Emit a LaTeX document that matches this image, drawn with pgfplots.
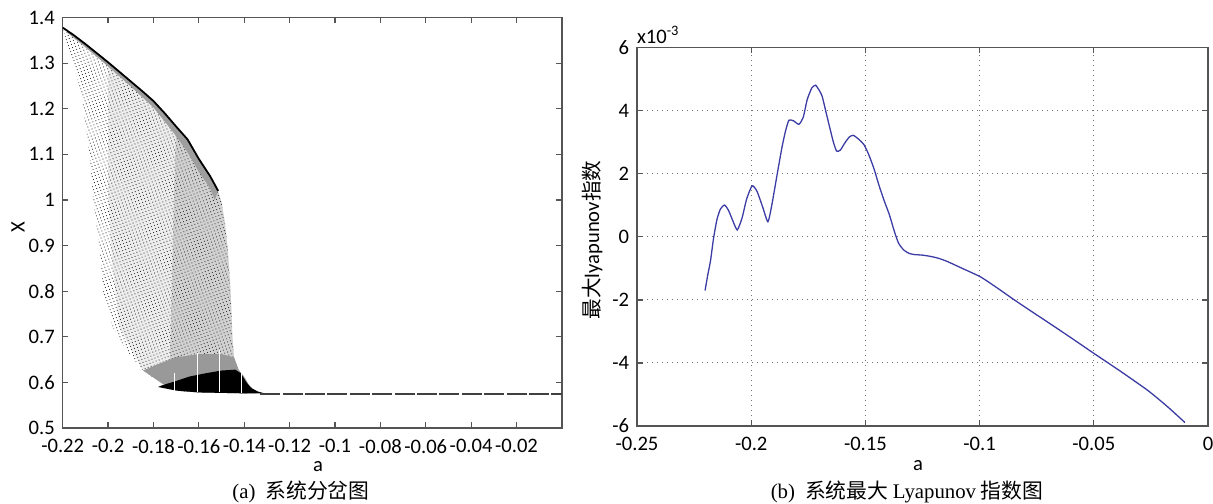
\documentclass[border=0pt]{standalone}
\usepackage{fontspec}
\setmainfont{Carlito}
\newfontfamily\cjk{Noto Sans CJK SC}
\newfontfamily\tms{Liberation Serif}
\usepackage{pgfplots}
\pgfplotsset{compat=1.18}
\usetikzlibrary{patterns.meta}
\definecolor{axgray}{RGB}{85,85,85}
\definecolor{lyblue}{RGB}{60,60,165}
\pgfplotsset{
  mystyle/.style={
    scale only axis, anchor=south west,
    tick align=inside, major tick length=2.8pt,
    axis line style={axgray, line width=0.7pt},
    every tick/.style={axgray, line width=0.6pt},
    tick label style={font=\fontsize{10.3}{12}\selectfont, inner sep=0pt},
    xticklabel style={yshift=-5.6pt},
    yticklabel style={xshift=-3.8pt},
  }
}
\begin{document}
\begin{tikzpicture}
\useasboundingbox (0,0) rectangle (606.5pt,251.5pt);
% ---------------- left: bifurcation diagram
\begin{axis}[mystyle, at={(31.35pt,37.5pt)}, width=249.6pt, height=205.2pt,
  xmin=-0.22, xmax=0, ymin=0.5, ymax=1.4,
  xtick={-0.22,-0.2,-0.18,-0.16,-0.14,-0.12,-0.1,-0.08,-0.06,-0.04,-0.02},
  xticklabels={-0.22,-0.2,-0.18,-0.16,-0.14,-0.12,-0.1,-0.08,-0.06,-0.04,-0.02},
  ytick={0.5,0.6,0.7,0.8,0.9,1,1.1,1.2,1.3,1.4},
  yticklabels={0.5,0.6,0.7,0.8,0.9,1,1.1,1.2,1.3,1.4},
  clip=true]
% medium-density part
\addplot[draw=none, fill=black!7] coordinates {
 (-0.20,1.302) (-0.195,1.281) (-0.19,1.260) (-0.185,1.239) (-0.18,1.217) (-0.175,1.190)
 (-0.17,1.161) (-0.165,1.133) (-0.16,1.090) (-0.155,1.052) (-0.1515,1.020)
 (-0.1500,0.995) (-0.1485,0.950) (-0.1472,0.889) (-0.1460,0.80) (-0.1452,0.70)
 (-0.1445,0.655) (-0.1425,0.628) (-0.1400,0.612) (-0.1380,0.595) (-0.1360,0.584)
 (-0.1330,0.577) (-0.14,0.576) (-0.15,0.577) (-0.16,0.578) (-0.168,0.581)
 (-0.176,0.597) (-0.1846,0.626) (-0.195,0.72) (-0.198,0.85) (-0.200,1.0) (-0.20,1.302)};
% denser right part
\addplot[draw=none, fill=black!18] coordinates {
 (-0.17,1.161) (-0.165,1.133) (-0.16,1.090) (-0.155,1.052) (-0.1515,1.020)
 (-0.1500,0.995) (-0.1485,0.950) (-0.1472,0.889) (-0.1460,0.80) (-0.1452,0.70)
 (-0.1445,0.655) (-0.1425,0.628) (-0.1400,0.612) (-0.1380,0.595) (-0.1360,0.584)
 (-0.1330,0.577) (-0.14,0.576) (-0.15,0.577) (-0.16,0.578) (-0.168,0.581)
 (-0.173,0.60) (-0.172,0.80) (-0.171,1.0) (-0.17,1.161)};
% dotted texture over whole region
\addplot[draw=none, pattern={Dots[distance=1.6pt,radius=0.3pt,angle=20]}, pattern color=black!80] coordinates {
 (-0.22,1.378) (-0.215,1.361) (-0.21,1.342) (-0.205,1.322) (-0.20,1.302) (-0.195,1.281)
 (-0.19,1.260) (-0.185,1.239) (-0.18,1.217) (-0.175,1.190) (-0.17,1.161) (-0.165,1.133)
 (-0.16,1.090) (-0.155,1.052) (-0.1515,1.020)
 (-0.1500,0.995) (-0.1485,0.950) (-0.1472,0.889) (-0.1460,0.80) (-0.1452,0.70)
 (-0.1445,0.655) (-0.1425,0.628) (-0.1400,0.612) (-0.1380,0.595) (-0.1360,0.584)
 (-0.1330,0.577) (-0.14,0.576) (-0.15,0.577) (-0.16,0.578) (-0.168,0.581)
 (-0.176,0.597) (-0.1846,0.626) (-0.1919,0.67) (-0.1978,0.72) (-0.2022,0.80)
 (-0.2036,0.889) (-0.2066,1.0) (-0.208,1.095) (-0.2102,1.175) (-0.2117,1.234)
 (-0.2160,1.31) (-0.2190,1.36) (-0.22,1.378)};
% dense band under the upper envelope
\addplot[draw=none, fill=black!38] coordinates {
 (-0.218,1.372) (-0.21,1.342) (-0.20,1.302) (-0.19,1.260) (-0.18,1.217) (-0.175,1.190)
 (-0.17,1.161) (-0.165,1.133) (-0.16,1.090) (-0.155,1.052) (-0.1515,1.020)
 (-0.153,1.000) (-0.155,1.025) (-0.16,1.062) (-0.165,1.105) (-0.17,1.140)
 (-0.175,1.172) (-0.18,1.203) (-0.19,1.249) (-0.20,1.293) (-0.21,1.335) (-0.218,1.367)};
% dark band above the bottom
\addplot[draw=none, fill=black!40] coordinates {
 (-0.1846,0.626) (-0.178,0.640) (-0.17,0.655) (-0.16,0.662) (-0.15,0.662) (-0.1445,0.655)
 (-0.1425,0.628) (-0.1400,0.612) (-0.1380,0.595) (-0.1360,0.584) (-0.1330,0.577)
 (-0.14,0.576) (-0.15,0.577) (-0.16,0.578) (-0.168,0.581) (-0.176,0.597) (-0.1846,0.626)};
% black bottom band
\addplot[draw=none, fill=black] coordinates {
 (-0.178,0.590) (-0.176,0.594) (-0.170,0.603) (-0.164,0.613) (-0.157,0.620) (-0.150,0.626)
 (-0.144,0.628) (-0.1415,0.620) (-0.139,0.600) (-0.137,0.588) (-0.134,0.580) (-0.131,0.576)
 (-0.14,0.576) (-0.15,0.577) (-0.16,0.578) (-0.170,0.582) (-0.178,0.590)};
% white gaps
\addplot[white, line width=0.5pt] coordinates {(-0.1706,0.582) (-0.1706,0.620)};
\addplot[white, line width=0.5pt] coordinates {(-0.1608,0.579) (-0.1608,0.665)};
\addplot[white, line width=0.5pt] coordinates {(-0.1510,0.578) (-0.1510,0.670)};
\addplot[white, line width=0.5pt] coordinates {(-0.1414,0.577) (-0.1414,0.640)};
% upper envelope
\addplot[black, line width=0.9pt] coordinates {
 (-0.22,1.378) (-0.215,1.361) (-0.21,1.342) (-0.205,1.322) (-0.20,1.302) (-0.195,1.281)
 (-0.19,1.260) (-0.185,1.239) (-0.18,1.217) (-0.175,1.190) (-0.17,1.161) (-0.165,1.133)
 (-0.16,1.090) (-0.155,1.052) (-0.1515,1.020)};
% fixed point branch
\addplot[black!75, line width=0.8pt, dash pattern=on 10pt off 1.2pt] coordinates {(-0.133,0.575) (0,0.575)};
\end{axis}
% ---------------- right: largest Lyapunov exponent
\begin{axis}[mystyle, at={(318.5pt,38.5pt)}, width=285.5pt, height=189.15pt,
  xmin=-0.25, xmax=0, ymin=-6, ymax=6,
  xtick={-0.25,-0.2,-0.15,-0.1,-0.05,0},
  xticklabels={-0.25,-0.2,-0.15,-0.1,-0.05,0},
  ytick={-6,-4,-2,0,2,4,6},
  yticklabels={-6,-4,-2,0,2,4,6},
  grid=major, grid style={black!55, line width=0.5pt, dash pattern=on 0.6pt off 1.9pt}]
\addplot[lyblue, line width=0.65pt, smooth, tension=0.35] coordinates {
 (-0.2202,-1.70) (-0.2190,-1.20) (-0.2178,-0.75) (-0.2165,-0.05) (-0.2150,0.55) (-0.2135,0.88)
 (-0.2117,1.01) (-0.2100,0.85) (-0.2080,0.50) (-0.2061,0.22) (-0.2040,0.60) (-0.2020,1.20)
 (-0.1996,1.62) (-0.1975,1.45) (-0.1950,0.95) (-0.1927,0.48) (-0.1910,1.00) (-0.1886,2.00)
 (-0.1865,2.85) (-0.1850,3.35) (-0.1835,3.70) (-0.1815,3.68) (-0.1791,3.57) (-0.1772,3.80)
 (-0.1755,4.35) (-0.1735,4.72) (-0.1718,4.81) (-0.1700,4.62) (-0.1689,4.45) (-0.1674,4.00)
 (-0.1659,3.55) (-0.1640,3.00) (-0.1626,2.72) (-0.1610,2.75) (-0.1590,2.98) (-0.1570,3.17)
 (-0.1553,3.22) (-0.1530,3.10) (-0.1506,2.92) (-0.1485,2.60) (-0.1462,2.15) (-0.1440,1.62)
 (-0.1418,1.15) (-0.1395,0.70) (-0.1374,0.19) (-0.1355,-0.20) (-0.1332,-0.42) (-0.1310,-0.52)
 (-0.1288,-0.56) (-0.1250,-0.58) (-0.1215,-0.62) (-0.1180,-0.68) (-0.1142,-0.78) (-0.1070,-1.02)
 (-0.0996,-1.27) (-0.0923,-1.62) (-0.0850,-1.99) (-0.0776,-2.35) (-0.0703,-2.70) (-0.0600,-3.20)
 (-0.0499,-3.70) (-0.0380,-4.28) (-0.0264,-4.87) (-0.0180,-5.37) (-0.0101,-5.89)};
\end{axis}
% ---------------- labels and captions
\node[font=\fontsize{10.3}{12}\selectfont, rotate=90] at (9pt,138pt) {X};
\node[font=\fontsize{10.3}{12}\selectfont, anchor=base, inner sep=0pt] at (159pt,15.8pt) {a};
\node[font=\fontsize{10.3}{12}\selectfont, anchor=base, inner sep=0pt] at (459pt,16.3pt) {a};
\node[font=\fontsize{10.3}{12}\selectfont, rotate=90] at (296pt,131.5pt) {{\cjk 最大}lyapunov{\cjk 指数}};
\node[font=\fontsize{10.3}{12}\selectfont, anchor=west, inner sep=0pt] at (318.3pt,234pt) {x10\textsuperscript{-3}};
\node[font=\fontsize{10.4}{12}\selectfont, inner sep=0pt] at (150.5pt,5.5pt) {{\tms (a)}\hspace{5pt}{\cjk 系统分岔图}};
\node[font=\fontsize{10.4}{12}\selectfont, inner sep=0pt] at (453.5pt,5.5pt) {{\tms (b)}\hspace{5pt}{\cjk 系统最大} {\tms Lyapunov} {\cjk 指数图}};
\end{tikzpicture}
\end{document}
